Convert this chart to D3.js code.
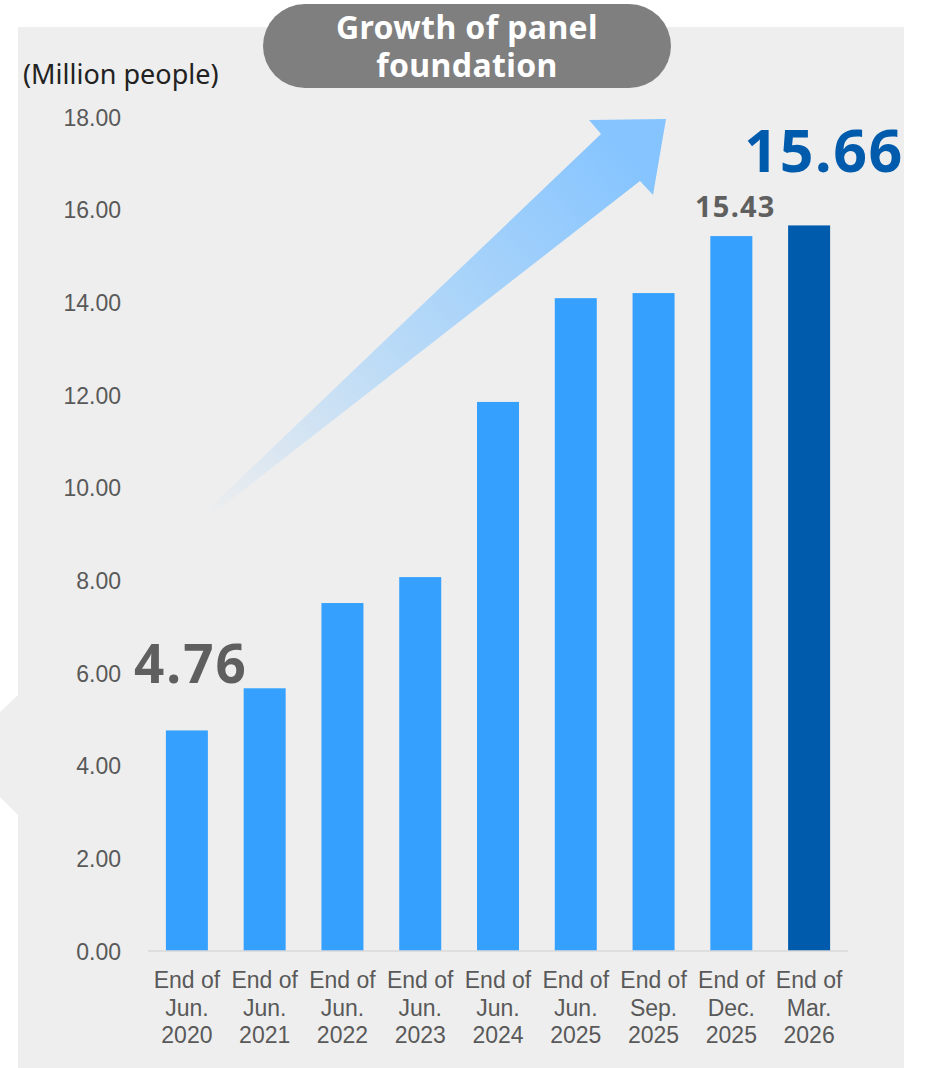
<!DOCTYPE html>
<html lang="en">
<head>
  <meta charset="utf-8">
  <script src="https://d3js.org/d3.v7.min.js"></script>
  <title>Growth of panel foundation</title>
  <style>
    body { margin: 0; background: #fff; }
    .axis text { font-family: "Liberation Sans", Arial, sans-serif; font-size: 23px; fill: #595959; }
    .axis path, .axis line { display: none; }
  </style>
</head>
<body>
<svg id="chart" width="929" height="1068"></svg>

<script>
// data
var categories = ["End of Jun. 2020", "End of Jun. 2021", "End of Jun. 2022", "End of Jun. 2023",
                  "End of Jun. 2024", "End of Jun. 2025", "End of Sep. 2025", "End of Dec. 2025",
                  "End of Mar. 2026"];
var values = [4.76, 5.67, 7.51, 8.07, 11.85, 14.09, 14.20, 15.43, 15.66];
var yTicks = [0, 2, 4, 6, 8, 10, 12, 14, 16, 18];
var unitLabel = "(Million people)";
var titleLines = ["Growth of panel", "foundation"];
var calloutIdx = [0, 7, 8];

var svg = d3.select("#chart");

var x = d3.scaleBand()
    .domain(categories)
    .range([148, 848])
    .paddingInner(0.46)
    .paddingOuter(0.23);

var y = d3.scaleLinear()
    .domain([0, 18])
    .range([951, 117]);

// grey panel + little chevron on the left
svg.append("rect")
    .attr("x", 18).attr("y", 27)
    .attr("width", 886).attr("height", 1041)
    .attr("fill", "#eeeeee");

svg.append("path")
    .attr("d", "M18,695 L0,712 L0,797 L18,815 Z")
    .attr("fill", "#eeeeee");

// big gradient arrow
var defs = svg.append("defs");
var grad = defs.append("linearGradient")
    .attr("id", "arrowGrad")
    .attr("gradientUnits", "userSpaceOnUse")
    .attr("x1", 205).attr("y1", 515)
    .attr("x2", 630).attr("y2", 150);
grad.append("stop").attr("offset", "0").attr("stop-color", "#eeeeee");
grad.append("stop").attr("offset", "0.45").attr("stop-color", "#b9daf7");
grad.append("stop").attr("offset", "1").attr("stop-color", "#85c4ff");

svg.append("path")
    .attr("d", "M200,517 L601,134 L589,120 L666,119 L653,195 L640,181 L214,513 Z")
    .attr("fill", "url(#arrowGrad)");

// bars
svg.selectAll(".bar")
    .data(values)
  .enter().append("rect")
    .attr("class", "bar")
    .attr("x", function(d, i) { return x(categories[i]); })
    .attr("y", function(d) { return y(d); })
    .attr("width", x.bandwidth())
    .attr("height", function(d) { return y(0) - y(d); })
    .attr("fill", function(d, i) { return i === values.length - 1 ? "#005bac" : "#36a0ff"; });

// baseline
svg.append("line")
    .attr("x1", x.range()[0]).attr("x2", x.range()[1])
    .attr("y1", y(0)).attr("y2", y(0))
    .attr("stroke", "#d9d9d9")
    .attr("stroke-width", 1.5);

// y axis (labels only)
svg.append("g")
    .attr("class", "axis")
    .attr("transform", "translate(121,0)")
    .call(d3.axisLeft(y).tickValues(yTicks).tickFormat(d3.format(".2f")).tickSize(0).tickPadding(0))
    .selectAll("text")
      .attr("dy", "0.35em");

// x axis, three line labels
var xg = svg.append("g")
    .attr("class", "axis")
    .attr("transform", "translate(0," + y(0) + ")")
    .call(d3.axisBottom(x).tickSize(0).tickFormat(""));

xg.selectAll(".tick").append("text")
    .attr("text-anchor", "middle")
    .each(function(d) {
      var rest = d.replace("End of ", "").split(" ");
      var lines = ["End of", rest[0], rest[1]];
      var t = d3.select(this);
      lines.forEach(function(l, k) {
        t.append("tspan").attr("x", 0).attr("y", 37 + k * 27.5).text(l);
      });
    });

// unit label
svg.append("text")
    .attr("x", 23).attr("y", 84)
    .attr("font-family", "'Noto Sans', sans-serif")
    .attr("font-size", 27)
    .attr("fill", "#222")
    .text(unitLabel);

// title pill
svg.append("rect")
    .attr("x", 263).attr("y", 4)
    .attr("width", 408).attr("height", 84)
    .attr("rx", 42).attr("ry", 42)
    .attr("fill", "#7f7f7f");

var title = svg.append("text")
    .attr("class", "title")
    .attr("text-anchor", "middle")
    .attr("font-family", "'Noto Sans', sans-serif")
    .attr("font-weight", "bold")
    .attr("font-size", 32)
    .attr("letter-spacing", 0.4)
    .attr("fill", "#fff");

title.selectAll("tspan")
    .data(titleLines)
  .enter().append("tspan")
    .attr("x", 467)
    .attr("y", function(d, i) { return 39 + i * 38; })
    .text(function(d) { return d; });

// value callouts: size, colour, letter spacing, offsets from bar
var calloutStyle = {
  0: { size: 53, fill: "#5f5f5f", ls: 2, dx: 4, dy: -47 },
  7: { size: 29, fill: "#5f5f5f", ls: 1.2, dx: 4, dy: -19 },
  8: { size: 59, fill: "#005bac", ls: 1.6, dx: 15, dy: -53 }
};

svg.selectAll(".callout")
    .data(calloutIdx)
  .enter().append("text")
    .attr("class", "callout")
    .attr("x", function(i) { return x(categories[i]) + x.bandwidth() / 2 + calloutStyle[i].dx; })
    .attr("y", function(i) { return y(values[i]) + calloutStyle[i].dy; })
    .attr("text-anchor", "middle")
    .attr("font-family", "'Noto Sans', sans-serif")
    .attr("font-weight", "bold")
    .attr("font-size", function(i) { return calloutStyle[i].size; })
    .attr("letter-spacing", function(i) { return calloutStyle[i].ls; })
    .attr("fill", function(i) { return calloutStyle[i].fill; })
    .text(function(i) { return values[i].toFixed(2); });
</script>
</body>
</html>
